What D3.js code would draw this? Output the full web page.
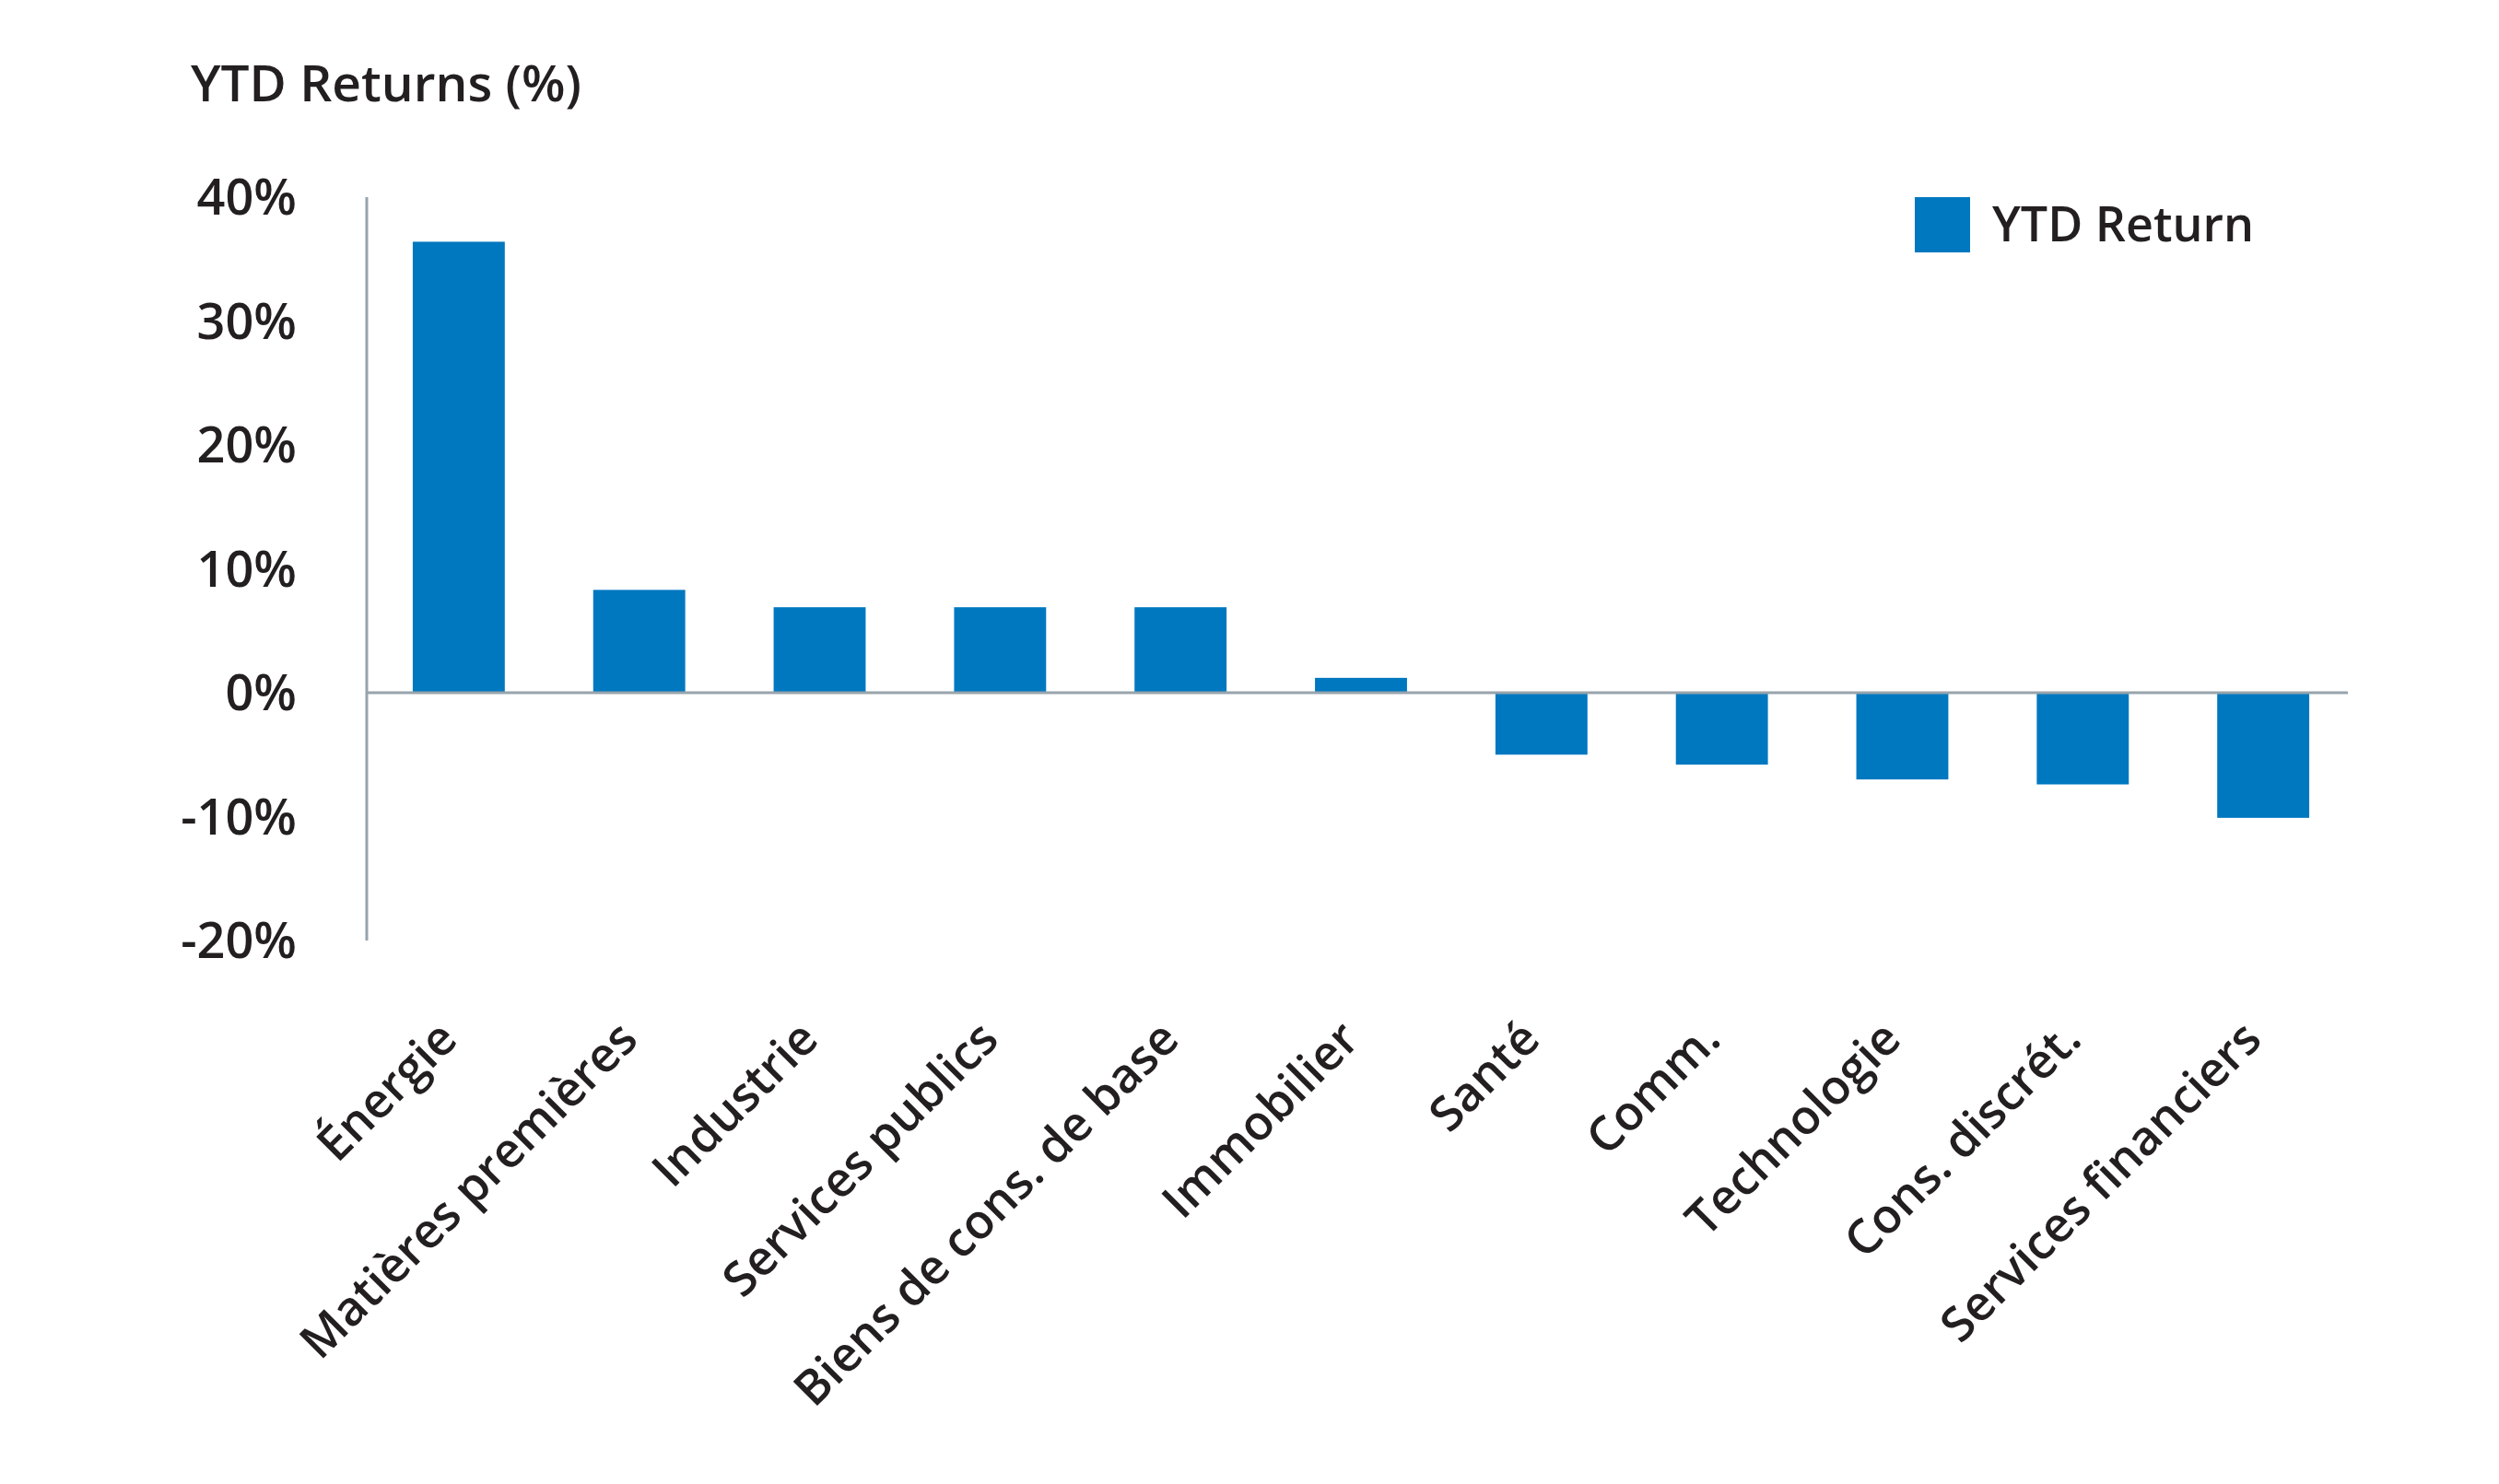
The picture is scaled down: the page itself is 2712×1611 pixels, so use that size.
<!DOCTYPE html>
<html>
<head>
<meta charset="utf-8">
<script src="https://cdn.jsdelivr.net/npm/d3@7"></script>
<style>
  body { margin: 0; background: #fff; }
  text { font-family: "Open Sans", Lato, sans-serif; font-weight: 600; fill: #231f20; }
</style>
</head>
<body>
<div id="chart"></div>
<script>
var sectors = ["Énergie", "Matières premières", "Industrie", "Services publics",
    "Biens de cons. de base", "Immobilier", "Santé", "Comm.", "Technologie",
    "Cons. discrét.", "Services financiers"];
var ytd_return = [36.4, 8.3, 6.9, 6.9, 6.9, 1.2, -5.0, -5.8, -7.0, -7.4, -10.1];
var y_ticks = [40, 30, 20, 10, 0, -10, -20];
var series_name = "YTD Return";
var title_text = "YTD Returns (%)";

var width = 2712, height = 1611;
var bar_color = "#0078c0";
var axis_color = "#98a4ab";

var svg = d3.select("#chart").append("svg")
    .attr("width", width)
    .attr("height", height)
    .style("background", "#fff");

var x = d3.scaleBand().domain(sectors).range([398, 2556]).paddingInner(0.49).paddingOuter(0.255);
var y = d3.scaleLinear().domain([-20, 40]).range([1021, 214]);

// title
svg.append("text")
    .attr("x", 207)
    .attr("y", 110)
    .style("font-size", "55px")
    .text(title_text);

// y tick labels
svg.selectAll(".ytick")
    .data(y_ticks)
    .enter()
    .append("text")
        .attr("class", "ytick")
        .attr("text-anchor", "end")
        .attr("x", 322)
        .attr("y", function(d) { return y(d); })
        .attr("dy", "0.36em")
        .style("font-size", "54px")
        .text(function(d) { return d + "%"; });

// bars
svg.selectAll(".bar")
    .data(ytd_return)
    .enter()
    .append("rect")
        .attr("class", "bar")
        .attr("x", function(d, i) { return x(sectors[i]); })
        .attr("width", x.bandwidth())
        .attr("y", function(d) { return y(Math.max(0, d)); })
        .attr("height", function(d) { return Math.abs(y(d) - y(0)); })
        .attr("fill", bar_color);

// axis lines
svg.append("line")
    .attr("x1", 398).attr("x2", 398)
    .attr("y1", y(40)).attr("y2", y(-20))
    .style("stroke", axis_color)
    .style("stroke-width", 3);

svg.append("line")
    .attr("x1", 398).attr("x2", 2548)
    .attr("y1", y(0)).attr("y2", y(0))
    .style("stroke", axis_color)
    .style("stroke-width", 3);

// x labels, rotated
svg.selectAll(".xlabel")
    .data(sectors)
    .enter()
    .append("text")
        .attr("class", "xlabel")
        .attr("text-anchor", "end")
        .attr("transform", function(d) {
            return "translate(" + (x(d) + x.bandwidth() / 2 - 12) + ",1118) rotate(-45)";
        })
        .attr("dy", "0.35em")
        .style("font-size", "52px")
        .text(function(d) { return d; });

// legend
svg.append("rect")
    .attr("x", 2078)
    .attr("y", 214)
    .attr("width", 60)
    .attr("height", 60)
    .attr("fill", bar_color);

svg.append("text")
    .attr("x", 2162)
    .attr("y", 262)
    .style("font-size", "52px")
    .text(series_name);
</script>
</body>
</html>
